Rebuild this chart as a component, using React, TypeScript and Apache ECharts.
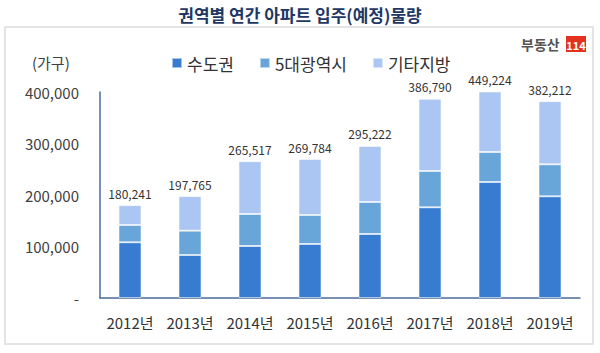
import React, { useEffect, useRef } from "react";
import * as echarts from "echarts";

const categories = ["2012년", "2013년", "2014년", "2015년", "2016년", "2017년", "2018년", "2019년"];
const capitalArea = [108200, 83500, 101000, 104900, 124300, 176100, 225200, 197500];
const metroCities = [33500, 47200, 62100, 56300, 62100, 70500, 58300, 62100];
const totals = [180241, 197765, 265517, 269784, 295222, 386790, 449224, 382212];
const otherRegions = totals.map((t, i) => t - capitalArea[i] - metroCities[i]);
const seriesNames = ["수도권", "5대광역시", "기타지방"];
const yTicks = [0, 100000, 200000, 300000, 400000];

const FONT = "'Noto Sans CJK KR', 'Noto Sans', sans-serif";
const fmt = (v: number) => v.toLocaleString("en-US");

export default function App() {
  const ref = useRef<HTMLDivElement>(null);
  useEffect(() => {
    if (!ref.current) return;
    const chart = echarts.init(ref.current, null, { renderer: "svg" });
    const colors = ["#377cd1", "#68a5d9", "#abc6f2"];
    const base = {
      type: "bar",
      stack: "total",
      barWidth: 23,
      clip: true,
      itemStyle: { borderColor: "rgba(255,255,255,0.55)", borderWidth: 1 },
    };
    chart.setOption({
      animation: false,
      textStyle: { fontFamily: FONT },
      title: {
        text: "권역별 연간 아파트 입주(예정)물량",
        left: "center",
        top: 1,
        textStyle: { fontFamily: FONT, fontSize: 17, fontWeight: "bold", color: "#1f3864" },
      },
      legend: {
        data: seriesNames,
        left: 171,
        top: 53,
        padding: 0,
        itemWidth: 10,
        itemHeight: 10,
        itemGap: 25,
        icon: "rect",
        textStyle: { fontFamily: FONT, fontSize: 17, color: "#333", lineHeight: 20 },
      },
      grid: { left: 100, right: 20, top: 92, bottom: 55, containLabel: false },
      xAxis: {
        type: "category",
        data: categories,
        axisLine: { lineStyle: { color: "#4a6c9b", width: 1.5 } },
        axisTick: { show: false },
        axisLabel: { fontFamily: FONT, fontSize: 15, color: "#333", margin: 17, interval: 0 },
      },
      yAxis: {
        type: "value",
        min: yTicks[0],
        max: yTicks[yTicks.length - 1],
        interval: yTicks[1] - yTicks[0],
        splitLine: { show: false },
        axisLine: { show: true, lineStyle: { color: "#4a6c9b", width: 1.5 } },
        axisTick: { show: false },
        axisLabel: {
          fontFamily: FONT,
          fontSize: 15,
          color: "#404040",
          margin: 21,
          formatter: (v: number) => (v === 0 ? "-" : fmt(v)),
        },
      },
      graphic: [
        {
          type: "rect",
          shape: { x: 5, y: 27, width: 588, height: 317 },
          style: { fill: "none", stroke: "#e4e4e4", lineWidth: 2 },
          silent: true,
        },
        {
          type: "text",
          x: 32,
          y: 62,
          style: { text: "(가구)", fontFamily: FONT, fontSize: 15, fill: "#404040", verticalAlign: "middle" },
        },
        {
          type: "text",
          x: 521,
          y: 44,
          style: { text: "부동산", fontFamily: FONT, fontSize: 14, fontWeight: "bold", fill: "#555", verticalAlign: "middle" },
        },
        {
          type: "rect",
          shape: { x: 566, y: 36, width: 20, height: 16 },
          style: { fill: "#e3321d" },
        },
        {
          type: "text",
          x: 576,
          y: 44.5,
          style: { text: "114", fontFamily: FONT, fontSize: 11, fontWeight: "bold", fill: "#fff", align: "center", verticalAlign: "middle" },
        },
      ],
      series: [
        { ...base, name: seriesNames[0], data: capitalArea, itemStyle: { ...base.itemStyle, color: colors[0] } },
        { ...base, name: seriesNames[1], data: metroCities, itemStyle: { ...base.itemStyle, color: colors[1] } },
        {
          ...base,
          name: seriesNames[2],
          data: otherRegions,
          itemStyle: { ...base.itemStyle, color: colors[2] },
          label: {
            show: true,
            position: "top",
            distance: 6,
            fontFamily: FONT,
            fontSize: 12,
            color: "#333",
            formatter: (p: any) => fmt(totals[p.dataIndex]),
          },
        },
      ],
    });
    return () => chart.dispose();
  }, []);
  return <div ref={ref} style={{ position: "absolute", left: 0, top: 0, width: 600, height: 353, background: "#fff" }} />;
}
